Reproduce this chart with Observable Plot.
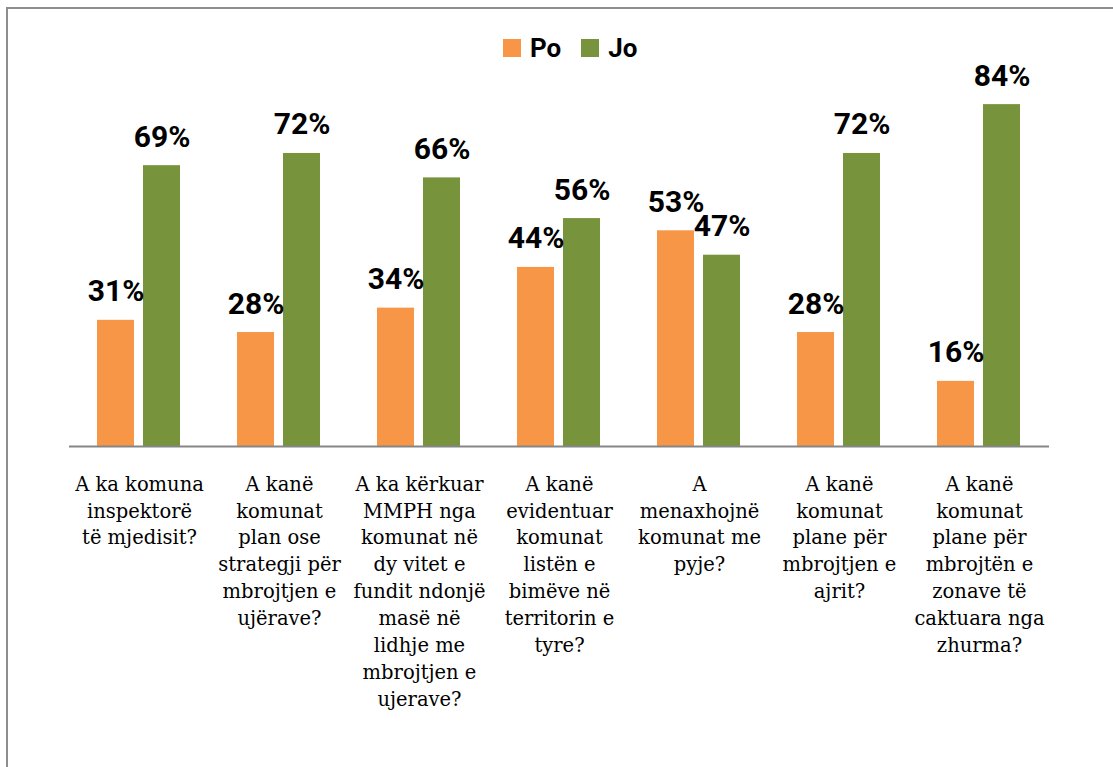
<!DOCTYPE html>
<html>
<head>
<meta charset="utf-8">
<script src="https://cdn.jsdelivr.net/npm/d3@7"></script>
<script src="https://cdn.jsdelivr.net/npm/@observablehq/plot@0.6"></script>
<style>
  html, body { margin: 0; padding: 0; background: #fff; overflow: hidden; }
  #wrap { position: relative; width: 1113px; height: 767px; }
  #frame { position: absolute; left: 6px; top: 7px; width: 1300px; height: 1000px;
           border-left: 2px solid #8e8e8e; border-top: 2px solid #8e8e8e; pointer-events: none; z-index: 3; }
  #legend { position: absolute; left: 503px; top: 33px; display: flex; align-items: center; z-index: 2;
            font-family: Roboto, "Liberation Sans", sans-serif; font-weight: 700; font-size: 26px; color: #000; }
  #legend .sw { width: 18px; height: 18px; display: inline-block; margin-right: 9px; }
  #legend .item { display: flex; align-items: center; margin-right: 20px; }
  #chart { position: absolute; left: 0; top: 0; }
</style>
</head>
<body>
<div id="wrap">
  <div id="chart"></div>
  <div id="legend"></div>
  <div id="frame"></div>
</div>
<script>
const categories = [
  "A ka komuna\ninspektorë\ntë mjedisit?",
  "A kanë\nkomunat\nplan ose\nstrategji për\nmbrojtjen e\nujërave?",
  "A ka kërkuar\nMMPH nga\nkomunat në\ndy vitet e\nfundit ndonjë\nmasë në\nlidhje me\nmbrojtjen e\nujerave?",
  "A kanë\nevidentuar\nkomunat\nlistën e\nbimëve në\nterritorin e\ntyre?",
  "A\nmenaxhojnë\nkomunat me\npyje?",
  "A kanë\nkomunat\nplane për\nmbrojtjen e\najrit?",
  "A kanë\nkomunat\nplane për\nmbrojtën e\nzonave të\ncaktuara nga\nzhurma?"
];
const series = ["Po", "Jo"];
const poValues = [31, 28, 34, 44, 53, 28, 16];
const joValues = [69, 72, 66, 56, 47, 72, 84];
const colors = ["#F79646", "#77933C"];

const data = [];
categories.forEach((c, i) => {
  data.push({category: c, series: "Po", value: poValues[i]});
  data.push({category: c, series: "Jo", value: joValues[i]});
});

const chart = Plot.plot({
  width: 1113,
  height: 767,
  marginLeft: 67,
  marginRight: 62,
  marginTop: 39,
  marginBottom: 321,
  style: {background: "transparent"},
  fx: {domain: categories, padding: 0, axis: null},
  x: {domain: series, paddingInner: 0.19, paddingOuter: 0.59, axis: null},
  y: {domain: [0, 100], axis: null},
  color: {domain: series, range: colors},
  marks: [
    Plot.barY(data, {fx: "category", x: "series", y: "value", fill: "series"}),
    Plot.ruleY([0], {stroke: "#868686", strokeWidth: 2}),
    Plot.text(data, {
      fx: "category", x: "series", y: "value",
      text: d => d.value + "%",
      lineAnchor: "bottom", dy: -19,
      fontFamily: "Roboto, 'Liberation Sans', sans-serif",
      fontWeight: 700, fontSize: 30, fill: "#000"
    }),
    Plot.text(categories, {
      fx: d => d, y: () => 0, text: d => d,
      lineAnchor: "top", dy: 25, lineHeight: 1.38,
      fontFamily: "'DejaVu Serif', serif", fontSize: 19.5, fill: "#000"
    })
  ]
});
document.getElementById("chart").appendChild(chart);

const legend = document.getElementById("legend");
series.forEach((s, i) => {
  const item = document.createElement("div");
  item.className = "item";
  const sw = document.createElement("span");
  sw.className = "sw";
  sw.style.background = colors[i];
  const t = document.createElement("span");
  t.textContent = s;
  item.appendChild(sw);
  item.appendChild(t);
  legend.appendChild(item);
});
</script>
</body>
</html>
